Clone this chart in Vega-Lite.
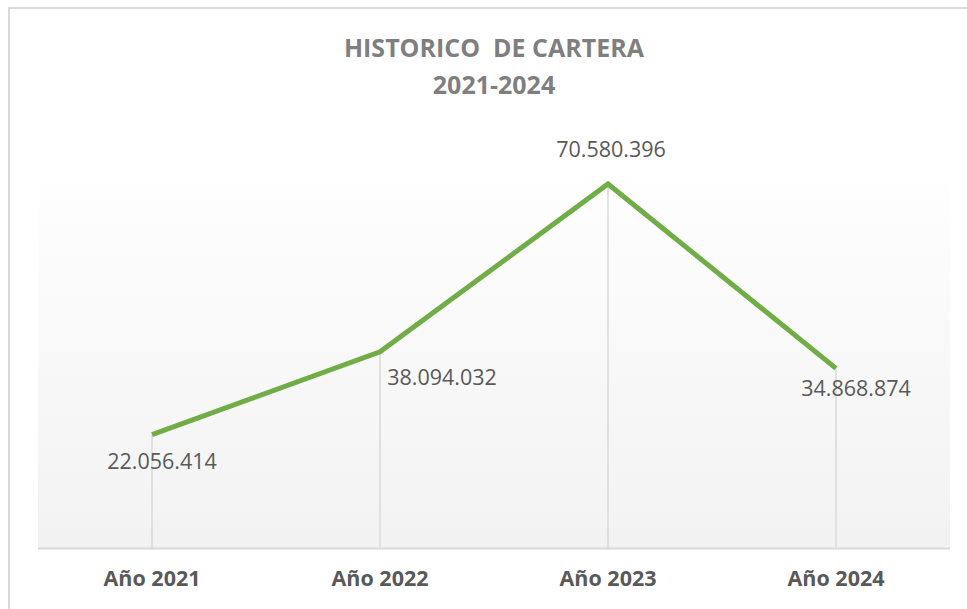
{
  "$schema": "https://vega.github.io/schema/vega-lite/v6.json",
  "width": 970,
  "height": 612,
  "padding": {"left": 9, "top": 8, "right": 0, "bottom": 0},
  "background": "#ffffff",
  "config": {
    "view": {"stroke": "#d9d9d9", "strokeWidth": 2},
    "locale": {"number": {"decimal": ",", "thousands": ".", "grouping": [3], "currency": ["", ""]}},
    "font": "Open Sans"
  },
  "title": {
    "text": ["HISTORICO\u00a0 DE CARTERA", "2021-2024"],
    "font": "Open Sans",
    "fontSize": 25,
    "fontWeight": "bold",
    "color": "#7f7f7f",
    "lineHeight": 37,
    "anchor": "middle",
    "offset": -91
  },
  "data": {
    "values": [
      {"year": "Año 2021", "value": 22056414},
      {"year": "Año 2022", "value": 38094032},
      {"year": "Año 2023", "value": 70580396},
      {"year": "Año 2024", "value": 34868874}
    ]
  },
  "encoding": {
    "x": {
      "field": "year",
      "type": "nominal",
      "sort": null,
      "title": null,
      "scale": {"paddingInner": 0, "paddingOuter": 0.1272},
      "axis": {
        "orient": "bottom",
        "offset": -41,
        "domain": false,
        "ticks": false,
        "tickSize": 0,
        "grid": false,
        "labelPadding": 0,
        "labelAngle": 0,
        "labelBaseline": "middle",
        "labelFont": "Open Sans",
        "labelFontSize": 21.5,
        "labelFontWeight": "bold",
        "labelColor": "#595959"
      }
    }
  },
  "layer": [
    {
      "mark": {
        "type": "rect",
        "fill": {
          "gradient": "linear",
          "x1": 0, "y1": 0, "x2": 0, "y2": 1,
          "stops": [
            {"offset": 0, "color": "#fefefe"},
            {"offset": 1, "color": "#f2f2f2"}
          ]
        }
      },
      "encoding": {
        "y": {"datum": 0, "type": "quantitative", "scale": {"domain": [-13850000, 104670000], "zero": false, "nice": false}, "axis": null},
        "y2": {"datum": 71000000}
      }
    },
    {
      "mark": {"type": "rect", "fill": "#d9d9d9"},
      "encoding": {
        "y": {"datum": 190000, "type": "quantitative", "scale": {"domain": [-13850000, 104670000], "zero": false, "nice": false}, "axis": null},
        "y2": {"datum": -190000}
      }
    },
    {
      "mark": {"type": "rule", "color": "#d9d9d9", "strokeWidth": 1.5},
      "encoding": {
        "y": {"field": "value", "type": "quantitative", "scale": {"domain": [-13850000, 104670000], "zero": false, "nice": false}, "axis": null},
        "y2": {"datum": 0}
      }
    },
    {
      "mark": {"type": "line", "color": "#70ad47", "strokeWidth": 5},
      "encoding": {
        "y": {"field": "value", "type": "quantitative", "scale": {"domain": [-13850000, 104670000], "zero": false, "nice": false}, "axis": null}
      }
    },
    {
      "transform": [{"filter": "datum.year == 'Año 2021'"}],
      "mark": {"type": "text", "font": "Open Sans", "fontSize": 21.5, "color": "#595959", "align": "center", "baseline": "middle", "dx": 10, "dy": 28},
      "encoding": {
        "y": {"field": "value", "type": "quantitative", "scale": {"domain": [-13850000, 104670000], "zero": false, "nice": false}, "axis": null},
        "text": {"field": "value", "type": "quantitative", "format": ",d"}
      }
    },
    {
      "transform": [{"filter": "datum.year == 'Año 2022'"}],
      "mark": {"type": "text", "font": "Open Sans", "fontSize": 21.5, "color": "#595959", "align": "center", "baseline": "middle", "dx": 62, "dy": 27},
      "encoding": {
        "y": {"field": "value", "type": "quantitative", "scale": {"domain": [-13850000, 104670000], "zero": false, "nice": false}, "axis": null},
        "text": {"field": "value", "type": "quantitative", "format": ",d"}
      }
    },
    {
      "transform": [{"filter": "datum.year == 'Año 2023'"}],
      "mark": {"type": "text", "font": "Open Sans", "fontSize": 21.5, "color": "#595959", "align": "center", "baseline": "middle", "dx": 3, "dy": -33},
      "encoding": {
        "y": {"field": "value", "type": "quantitative", "scale": {"domain": [-13850000, 104670000], "zero": false, "nice": false}, "axis": null},
        "text": {"field": "value", "type": "quantitative", "format": ",d"}
      }
    },
    {
      "transform": [{"filter": "datum.year == 'Año 2024'"}],
      "mark": {"type": "text", "font": "Open Sans", "fontSize": 21.5, "color": "#595959", "align": "center", "baseline": "middle", "dx": 20, "dy": 22},
      "encoding": {
        "y": {"field": "value", "type": "quantitative", "scale": {"domain": [-13850000, 104670000], "zero": false, "nice": false}, "axis": null},
        "text": {"field": "value", "type": "quantitative", "format": ",d"}
      }
    }
  ]
}
